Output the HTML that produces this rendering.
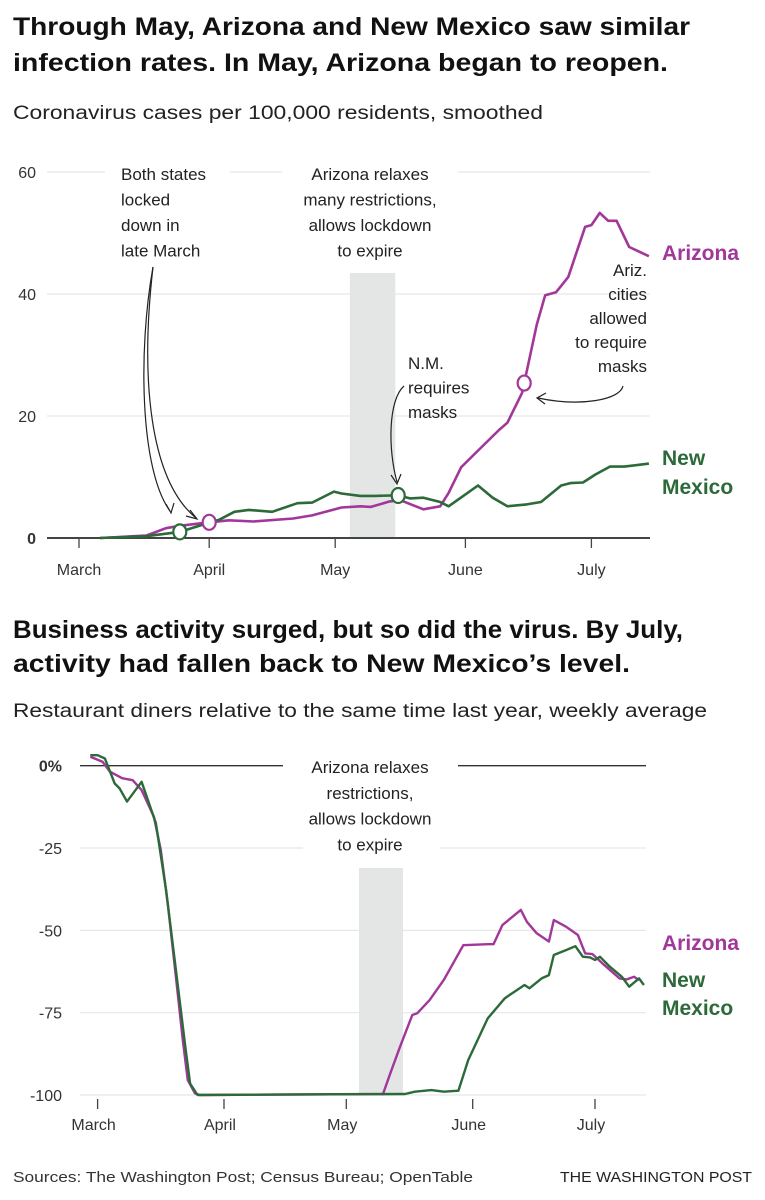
<!DOCTYPE html>
<html><head><meta charset="utf-8"><style>
html,body{margin:0;padding:0;background:#fff;}
svg{display:block;font-family:"Liberation Sans",sans-serif;}
.t{font-weight:bold;font-size:25px;fill:#111;}
.s{font-size:19px;fill:#222;}
.a{font-size:17px;fill:#222;}
.tk{font-size:16px;fill:#333;}
</style></head><body>
<svg id="c" width="765" height="1200" viewBox="0 0 765 1200">
<text class="t" x="13" y="35" textLength="677" lengthAdjust="spacingAndGlyphs">Through May, Arizona and New Mexico saw similar</text>
<text class="t" x="13" y="71" textLength="655" lengthAdjust="spacingAndGlyphs">infection rates. In May, Arizona began to reopen.</text>
<text class="s" x="13" y="119" textLength="530" lengthAdjust="spacingAndGlyphs">Coronavirus cases per 100,000 residents, smoothed</text>
<g id="g1"></g>
<text class="t" x="13" y="638" textLength="670" lengthAdjust="spacingAndGlyphs">Business activity surged, but so did the virus. By July,</text>
<text class="t" x="13" y="672" textLength="617" lengthAdjust="spacingAndGlyphs">activity had fallen back to New Mexico’s level.</text>
<text class="s" x="13" y="717" textLength="694" lengthAdjust="spacingAndGlyphs">Restaurant diners relative to the same time last year, weekly average</text>
<g id="g2"></g>
<text x="13" y="1182" font-size="15" fill="#333" textLength="460" lengthAdjust="spacingAndGlyphs">Sources: The Washington Post; Census Bureau; OpenTable</text>
<text x="752" y="1182" font-size="15" fill="#222" text-anchor="end" textLength="192" lengthAdjust="spacingAndGlyphs">THE WASHINGTON POST</text>
</svg>
<script>
// Chart 1 data: day index from March 1
const c1Ticks=[0,20,40,60];
const c1MonthLabels=["March","April","May","June","July"];
const c1MonthDays=[0,31,61,92,122];
const azDays=[5,16,20.7,24,30,35.7,41.6,51,55.5,62.5,67,69.5,74,76.5,82,86,88,91,96,100,102,105.5,109,111,113.6,116.5,120.5,122,124,126,128,131,135.7];
const azCases=[0,0.4,1.6,2,2.5,2.9,2.7,3.2,3.7,5,5.2,5.1,6,6.2,4.7,5.2,7.4,11.6,15,17.7,18.9,23.8,35,39.8,40.3,42.8,51,51.3,53.3,52,52,47.7,46.2];
const nmDays=[5,16,24,30,33.4,37,40.4,46,52,55.5,60.7,62.5,67,70.6,75.8,78.8,82,86,88,91.5,95,98.5,102,106.6,110,114.8,117,120,122.9,126.4,129.8,135.7];
const nmCases=[0,0.3,1,2.3,3,4.3,4.6,4.3,5.7,5.8,7.6,7.3,6.9,6.9,7,6.5,6.6,5.9,5.2,6.9,8.6,6.6,5.2,5.5,5.9,8.6,9,9.1,10.4,11.7,11.7,12.2];
// Chart 2 data
const c2Ticks=[0,-25,-50,-75,-100];
const c2TickLabels=["0%","-25","-50","-75","-100"];
const azDinDays=[-1.8,1.2,3,6,8.6,10.8,13.8,15.5,17.3,19.1,20.9,22.1,23.9,25.1,70,71.8,74.2,77.2,78.4,81.4,84.9,89.7,95.7,97.1,99.3,103.8,105.3,107.7,110.7,111.9,114.9,117.8,119.6,121.4,123.8,128,129.8,131.6,132.8];
const azDiners=[2.7,1.2,-1.8,-3.8,-4.4,-7.4,-15.5,-25.6,-42.8,-63,-83.3,-95.4,-99.5,-100,-99.7,-93.4,-85.3,-75.7,-75.2,-71.2,-65.1,-54.5,-54.2,-54.2,-48.4,-43.8,-47.4,-50.9,-53.4,-46.9,-48.9,-51.4,-57,-57.2,-60,-64.6,-64.9,-64.1,-65.1];
const nmDinDays=[-1.8,0,1.8,4.2,5.4,7.2,10.8,14.3,16.8,19.1,21.5,22.7,24.5,75.4,77.8,81.9,84.9,88.5,90.9,95.7,99.9,104.7,105.9,108.9,110.7,111.9,114.9,117.2,119,120.8,122,123.2,125.6,128.6,130.4,132.8,134];
const nmDiners=[3.2,3.2,2.2,-5.4,-6.9,-10.9,-4.9,-17.5,-37.8,-61,-85.3,-96.5,-100,-99.7,-99,-98.5,-99,-98.7,-89.4,-76.7,-70.6,-66.6,-67.6,-64.6,-63.6,-57.5,-56,-54.8,-58,-58.2,-59,-58,-61,-64.1,-67.1,-64.6,-66.6];

const NS="http://www.w3.org/2000/svg";
const AZ="#a2379a", NM="#2c6a3a";
function mk(parent,tag,attrs,txt){const e=document.createElementNS(NS,tag);for(const k in attrs)e.setAttribute(k,attrs[k]);if(txt!==undefined)e.textContent=txt;parent.appendChild(e);return e;}
function pathD(xs,ys,fx,fy){return xs.map((d,i)=>(i?"L":"M")+fx(d).toFixed(1)+","+fy(ys[i]).toFixed(1)).join("");}

// ---------- Chart 1 ----------
const g1=document.getElementById("g1");
const x1=d=>79+d*4.2, y1=v=>538-v*6.1;
c1Ticks.forEach(v=>{
  if(v>0){const l=mk(g1,"line",{x1:47,x2:650,y1:y1(v),y2:y1(v),stroke:"#e6e8e8","stroke-width":1.2});
  
  }
  const t=mk(g1,"text",{x:36,y:y1(v)+6,"text-anchor":"end","font-size":16,fill:"#333","font-weight":v===0?"bold":"normal"},String(v));
  
  
});
[[105,230],[282,458]].forEach(r=>mk(g1,"rect",{x:r[0],y:y1(60)-4,width:r[1]-r[0],height:8,fill:"#fff"}));
const sh1=mk(g1,"rect",{x:x1(64.5),y:273,width:x1(75.3)-x1(64.5),height:538-273,fill:"#e4e6e6"});


const ax1=mk(g1,"line",{x1:47,x2:650,y1:538,y2:538,stroke:"#444","stroke-width":2});


c1MonthDays.forEach((d,i)=>{
  mk(g1,"line",{x1:x1(d),x2:x1(d),y1:538,y2:548,stroke:"#444","stroke-width":1.3});
  const t=mk(g1,"text",{x:x1(d),y:575,"text-anchor":"middle",class:"tk"},c1MonthLabels[i]);
  
  
});
const l1a=mk(g1,"path",{d:pathD(azDays,azCases,x1,y1),fill:"none",stroke:AZ,"stroke-width":2.6,"stroke-linejoin":"round"});


const l1n=mk(g1,"path",{d:pathD(nmDays,nmCases,x1,y1),fill:"none",stroke:NM,"stroke-width":2.6,"stroke-linejoin":"round"});


function interp(xs,ys,d){for(let i=1;i<xs.length;i++){if(d<=xs[i]){const f=(d-xs[i-1])/(xs[i]-xs[i-1]);return ys[i-1]+f*(ys[i]-ys[i-1]);}}return ys[ys.length-1];}
[[nmDays,nmCases,24,NM],[azDays,azCases,31,AZ],[nmDays,nmCases,76,NM],[azDays,azCases,106,AZ]].forEach(m=>{
  const c=mk(g1,"ellipse",{cx:x1(m[2]),cy:y1(interp(m[0],m[1],m[2])),rx:6.5,ry:7.5,fill:"#fff",stroke:m[3],"stroke-width":2.2});
  
  
});
const arrows=[["M153,267 C138,350 140,470 170,511","166,504 171,513 174,503"],["M153,267 C140,380 150,480 196,518","186,516 197,519 190,510"],["M404,386 C388,400 388,450 397,482","391,475 397,484 401,474"],["M623,386 C620,400 580,407 538,398","546,393 537,398 545,404"]];
arrows.forEach(a=>{const p=mk(g1,"path",{d:a[0],fill:"none",stroke:"#222","stroke-width":1.2});
  
  
  mk(g1,"polyline",{points:a[1],fill:"none",stroke:"#222","stroke-width":1.2});});
function lines(g,arr,x,y0,dy,anchor,name){arr.forEach((s,i)=>{const t=mk(g,"text",{x:x,y:y0+i*dy,"text-anchor":anchor,class:"a"},s);
  
  });}
lines(g1,["Both states","locked","down in","late March"],121,180,25.5,"start","lockdown-annotation");
lines(g1,["Arizona relaxes","many restrictions,","allows lockdown","to expire"],370,180,25.5,"middle","reopen-annotation");
lines(g1,["N.M.","requires","masks"],408,369,24.5,"start","nm-masks-annotation");
lines(g1,["Ariz.","cities","allowed","to require","masks"],647,276,24,"end","az-masks-annotation");
[["Arizona",260,AZ],["New",465,NM],["Mexico",494,NM]].forEach(l=>{const t=mk(g1,"text",{x:662,y:l[1],"font-size":21,"font-weight":"bold",fill:l[2]},l[0]);
  
  });

// ---------- Chart 2 ----------
const g2=document.getElementById("g2");
const x2=d=>97.6+d*4.077, y2=v=>765.7-v*3.293;
c2Ticks.forEach((v,i)=>{
  const l=mk(g2,"line",{x1:80,x2:646,y1:y2(v),y2:y2(v),stroke:v===0?"#333":"#e6e8e8","stroke-width":v===0?1.3:1.2});
  
  
  const t=mk(g2,"text",{x:62,y:y2(v)+6,"text-anchor":"end","font-size":16,fill:"#333","font-weight":v===0?"bold":"normal"},c2TickLabels[i]);
  
  
});
[[283,458,y2(0)],[303,440,y2(-25)]].forEach(r=>mk(g2,"rect",{x:r[0],y:r[2]-4,width:r[1]-r[0],height:8,fill:"#fff"}));
const sh2=mk(g2,"rect",{x:359,y:868,width:44,height:y2(-100)-868,fill:"#e4e6e6"});


c1MonthDays.forEach((d,i)=>{
  mk(g2,"line",{x1:x2(d),x2:x2(d),y1:y2(-100)+4,y2:y2(-100)+14,stroke:"#444","stroke-width":1.3});
  const t=mk(g2,"text",{x:x2(d)-4,y:1130,"text-anchor":"middle",class:"tk"},c1MonthLabels[i]);
  
  
});
const l2a=mk(g2,"path",{d:pathD(azDinDays,azDiners,x2,y2),fill:"none",stroke:AZ,"stroke-width":2.4,"stroke-linejoin":"round"});


const l2n=mk(g2,"path",{d:pathD(nmDinDays,nmDiners,x2,y2),fill:"none",stroke:NM,"stroke-width":2.4,"stroke-linejoin":"round"});


lines(g2,["Arizona relaxes","restrictions,","allows lockdown","to expire"],370,773,25.8,"middle","reopen-annotation");
[["Arizona",950,AZ],["New",987,NM],["Mexico",1015,NM]].forEach(l=>{const t=mk(g2,"text",{x:662,y:l[1],"font-size":21,"font-weight":"bold",fill:l[2]},l[0]);
  
  });
</script>
</body></html>
